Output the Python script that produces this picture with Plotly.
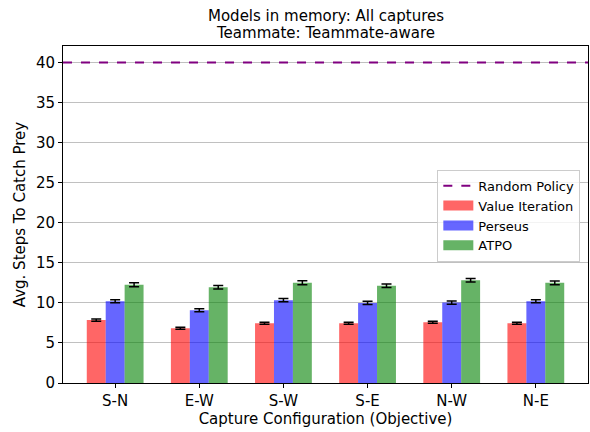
import plotly.graph_objects as go

categories = ["S-N", "E-W", "S-W", "S-E", "N-W", "N-E"]
value_iteration = [7.85, 6.84, 7.46, 7.46, 7.59, 7.46]
perseus = [10.21, 9.09, 10.34, 10.0, 10.04, 10.21]
atpo = [12.25, 11.96, 12.5, 12.13, 12.84, 12.5]
vi_err = [0.15, 0.12, 0.12, 0.12, 0.12, 0.12]
perseus_err = [0.18, 0.18, 0.2, 0.2, 0.2, 0.18]
atpo_err = [0.25, 0.22, 0.25, 0.22, 0.22, 0.22]
random_policy = 40.0
title_lines = ["Models in memory: All captures", "Teammate: Teammate-aware"]

FONT = "DejaVu Sans"
FS = 15
x = list(range(len(categories)))

fig = go.Figure()

fig.add_trace(go.Scatter(
    x=[-0.62, len(categories) - 1 + 0.62], y=[random_policy, random_policy],
    mode="lines", name="Random Policy",
    line=dict(color="purple", width=2, dash="dash"),
))

series = [
    ("Value Iteration", value_iteration, vi_err, "rgba(255,0,0,0.6)"),
    ("Perseus", perseus, perseus_err, "rgba(0,0,255,0.6)"),
    ("ATPO", atpo, atpo_err, "rgba(0,128,0,0.6)"),
]
for name, vals, err, color in series:
    fig.add_trace(go.Bar(
        x=x, y=vals, name=name, showlegend=False, legendgroup=name,
        marker=dict(color=color, line=dict(width=0)),
        error_y=dict(type="data", array=err, color="black", thickness=1.5, width=5),
    ))

# wide rectangular legend keys for the bar series
for name, vals, err, color in series:
    fig.add_trace(go.Scatter(
        x=[None], y=[None], mode="lines", name=name, legendgroup=name,
        line=dict(color=color, width=10),
    ))

# two-line title placed as annotations above the plot area
for line, ypos in zip(title_lines, [1.088, 1.038]):
    fig.add_annotation(
        text=line, xref="paper", yref="paper", x=0.5, y=ypos,
        xanchor="center", yanchor="middle", showarrow=False,
        font=dict(family=FONT, size=FS, color="black"),
    )

fig.update_layout(
    width=590, height=432,
    margin=dict(l=63, r=2, t=46, b=49),
    paper_bgcolor="white", plot_bgcolor="white",
    font=dict(family=FONT, size=FS, color="black"),
    barmode="group", bargap=0.325, bargroupgap=0,
    legend=dict(
        x=0.713, y=0.633, xanchor="left", yanchor="top",
        bgcolor="rgba(255,255,255,0.8)", bordercolor="#cccccc", borderwidth=1,
        font=dict(family=FONT, size=13, color="black"),
        tracegroupgap=0,
    ),
    showlegend=True,
)

fig.update_xaxes(
    range=[-0.62, len(categories) - 1 + 0.62],
    tickvals=x, ticktext=categories,
    ticks="outside", ticklen=4, tickcolor="black",
    showgrid=False, zeroline=False,
    showline=True, linecolor="black", linewidth=1, mirror=True,
    tickfont=dict(family=FONT, size=FS),
    title=dict(text="Capture Configuration (Objective)", standoff=2,
               font=dict(family=FONT, size=FS)),
)
fig.update_yaxes(
    range=[0, 42.07], tickvals=[0, 5, 10, 15, 20, 25, 30, 35, 40],
    ticks="outside", ticklen=4, tickcolor="black",
    showgrid=True, gridcolor="#c0c0c0", gridwidth=1, zeroline=False,
    showline=True, linecolor="black", linewidth=1, mirror=True,
    tickfont=dict(family=FONT, size=FS),
    title=dict(text="Avg. Steps To Catch Prey", standoff=6,
               font=dict(family=FONT, size=FS)),
)

fig.write_html("out.html")
